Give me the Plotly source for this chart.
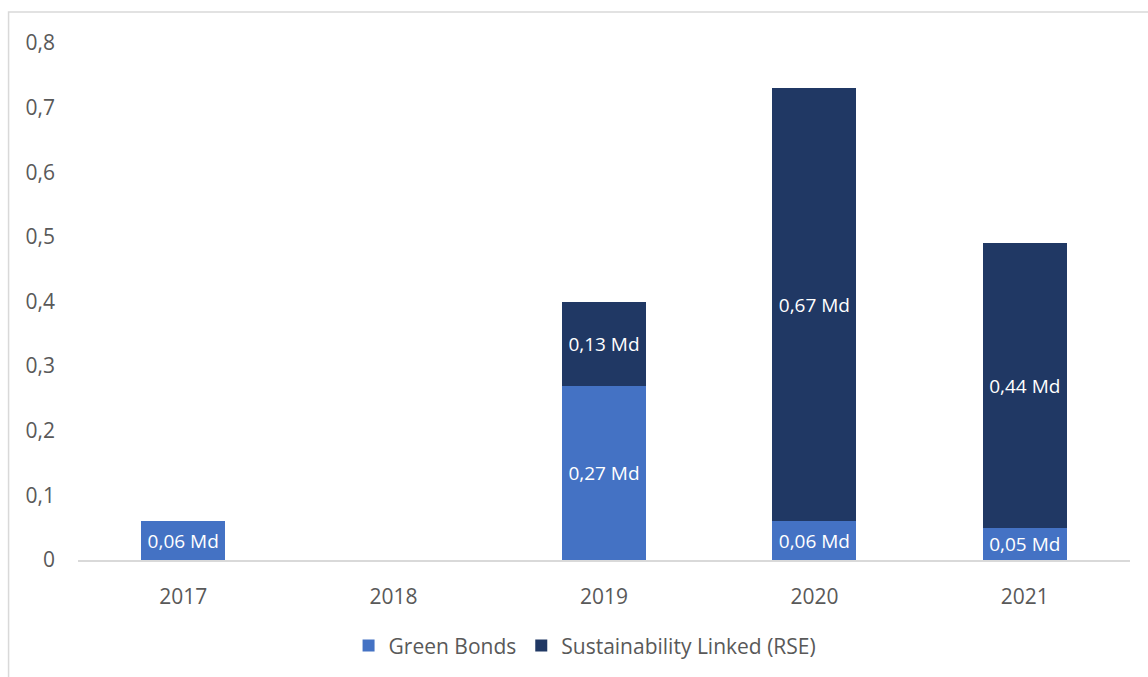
import plotly.graph_objects as go

years = ["2017", "2018", "2019", "2020", "2021"]
green_bonds = [0.06, None, 0.27, 0.06, 0.05]
sustainability_linked = [None, None, 0.13, 0.67, 0.44]

GREEN = "#4472C4"
NAVY = "#203864"
GREY_TXT = "#595959"
FONT = "Open Sans"

fig = go.Figure()
fig.add_trace(go.Bar(
    x=years, y=green_bonds, name="Green Bonds",
    marker=dict(color=GREEN, line=dict(width=0)),
    texttemplate="%{y:.2f} Md", textposition="inside", insidetextanchor="middle",
    textfont=dict(color="white", size=19, family=FONT),
    constraintext="none",
))
fig.add_trace(go.Bar(
    x=years, y=sustainability_linked, name="Sustainability Linked (RSE)",
    marker=dict(color=NAVY, line=dict(width=0)),
    texttemplate="%{y:.2f} Md", textposition="inside", insidetextanchor="middle",
    textfont=dict(color="white", size=19, family=FONT),
    constraintext="none",
))

fig.update_layout(
    barmode="stack",
    bargap=0.6,
    separators=", ",
    width=1148, height=677,
    margin=dict(l=77.5, r=17.5, t=43, b=116, pad=0),
    paper_bgcolor="white", plot_bgcolor="white",
    font=dict(family=FONT, size=21, color=GREY_TXT),
    legend=dict(
        orientation="h", x=0.482, xanchor="center", y=-0.164, yanchor="middle",
        font=dict(size=21, color=GREY_TXT, family=FONT),
        itemwidth=30, traceorder="normal",
    ),
    xaxis=dict(
        showline=True, linecolor="#d9d9d9", linewidth=2,
        showgrid=False, zeroline=False, ticks="",
        ticklabelstandoff=17,
        tickfont=dict(size=21, color=GREY_TXT, family=FONT),
    ),
    yaxis=dict(
        range=[0, 0.8], dtick=0.1, tick0=0,
        showgrid=False, zeroline=False, showline=False, ticks="",
        ticklabelstandoff=22,
        tickfont=dict(size=21, color=GREY_TXT, family=FONT),
    ),
    shapes=[dict(
        type="rect", xref="paper", yref="paper",
        x0=-0.066, x1=1.2, y0=-0.4, y1=1.0598,
        line=dict(color="#d9d9d9", width=1.5), fillcolor="rgba(0,0,0,0)",
        layer="below",
    )],
)

fig.write_html(
    "out.html",
    config={"displayModeBar": False},
    post_script="document.body.style.margin='0';document.body.style.overflow='hidden';",
)
